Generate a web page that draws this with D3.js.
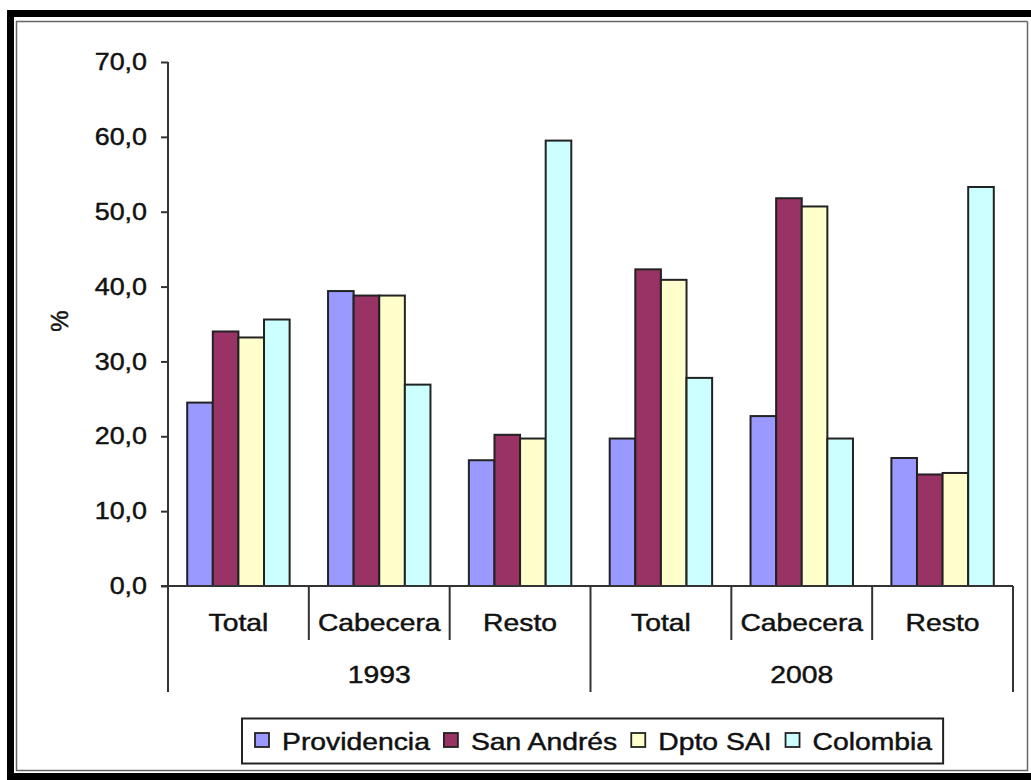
<!DOCTYPE html>
<html>
<head>
<meta charset="utf-8">
<script src="https://cdn.jsdelivr.net/npm/d3@7"></script>
<style>
  html, body { margin: 0; padding: 0; background: #fff; }
  svg text { font-family: "Liberation Sans", Arial, sans-serif; fill: #111; stroke: #111; stroke-width: 0.45px; }
</style>
</head>
<body>
<svg id="chart" width="1031" height="780"></svg>
<script>
// ---- data ----
const years = ["1993", "2008"];
const zones = ["Total", "Cabecera", "Resto"];
const seriesNames = ["Providencia", "San Andrés", "Dpto SAI", "Colombia"];
const providencia = [24.5, 39.4, 16.8, 19.7, 22.7, 17.1];
const sanAndres   = [34.0, 38.8, 20.2, 42.3, 51.8, 14.9];
const dptoSAI     = [33.2, 38.8, 19.7, 40.9, 50.7, 15.1];
const colombia    = [35.6, 26.9, 59.5, 27.8, 19.7, 53.3];
const yTicks = [0, 10, 20, 30, 40, 50, 60, 70];
const seriesColors = ["#9999FF", "#993366", "#FFFFCC", "#CCFFFF"];

const seriesValues = [providencia, sanAndres, dptoSAI, colombia];
const cats = [];
years.forEach(y => zones.forEach(z => cats.push(y + "|" + z)));

const svg = d3.select("#chart");
const SX = 1.18; // horizontal text stretch seen in the reference

// ---- frame ----
svg.append("rect").attr("x", 0).attr("y", 0).attr("width", 1031).attr("height", 780).attr("fill", "#fff");
svg.append("rect").attr("x", 7).attr("y", 10).attr("width", 1040).attr("height", 800).attr("fill", "#000");
svg.append("rect").attr("x", 14).attr("y", 17).attr("width", 1040).attr("height", 756).attr("fill", "#fff");
svg.append("path").attr("d", "M1027.5,21.5 H16.5 V770.5 H1027.5 V21.5")
  .attr("fill", "none").attr("stroke", "#666").attr("stroke-width", 1.5);
svg.append("rect").attr("x", 18).attr("y", 23).attr("width", 1008).attr("height", 746).attr("fill", "#fff");

// ---- scales ----
const y = d3.scaleLinear().domain([0, 70]).range([586, 62]);
const x0 = d3.scaleBand().domain(cats).range([168, 1013]).padding(0);
const bw = x0.bandwidth();
const x1 = d3.scaleBand().domain(seriesNames)
  .range([bw * 0.75 / 5.5, bw * 4.75 / 5.5]).padding(0);

// ---- y axis ----
const yAxis = d3.axisLeft(y).tickValues(yTicks).tickSize(7).tickPadding(14)
  .tickFormat(d => d3.format(".1f")(d).replace(".", ","));
const gy = svg.append("g").attr("transform", "translate(168,0)").call(yAxis);
gy.select(".domain").remove();
gy.selectAll(".tick line").attr("stroke", "#333").attr("stroke-width", 2);
gy.selectAll(".tick text").attr("font-size", 24).attr("fill", "#111")
  .attr("font-family", "Liberation Sans, Arial, sans-serif")
  .each(function () {
    const t = d3.select(this);
    const xx = +t.attr("x");
    t.attr("x", null).attr("transform", `translate(${xx},0) scale(1.12,1)`);
  });
svg.append("line").attr("x1", 168).attr("x2", 168).attr("y1", 62).attr("y2", 692)
  .attr("stroke", "#333").attr("stroke-width", 2);

// y title
svg.append("text").attr("transform", "translate(68,321) rotate(-90)")
  .attr("text-anchor", "middle").attr("font-size", 24).text("%");

// ---- bars ----
const barData = [];
seriesValues.forEach((vals, si) => vals.forEach((v, ci) => barData.push({ s: seriesNames[si], si, c: cats[ci], v })));
svg.append("g").selectAll("rect").data(barData).join("rect")
  .attr("x", d => x0(d.c) + x1(d.s))
  .attr("y", d => y(d.v))
  .attr("width", x1.bandwidth())
  .attr("height", d => y(0) - y(d.v))
  .attr("fill", d => seriesColors[d.si])
  .attr("stroke", "#222").attr("stroke-width", 2);

// ---- x axis ----
svg.append("line").attr("x1", 161).attr("x2", x0.range()[1]).attr("y1", 586).attr("y2", 586)
  .attr("stroke", "#333").attr("stroke-width", 2);
cats.forEach((c, i) => {
  const left = x0(c);
  const isYearStart = i % zones.length === 0;
  if (i > 0) {
    svg.append("line").attr("x1", left).attr("x2", left).attr("y1", 586)
      .attr("y2", isYearStart ? 692 : 640).attr("stroke", "#333").attr("stroke-width", 2);
  }
  svg.append("text").attr("transform", `translate(${left + bw / 2},631) scale(${SX},1)`)
    .attr("text-anchor", "middle").attr("font-size", 24).text(c.split("|")[1]);
});
const xEnd = x0.range()[1];
svg.append("line").attr("x1", xEnd).attr("x2", xEnd).attr("y1", 586).attr("y2", 692)
  .attr("stroke", "#333").attr("stroke-width", 2);
years.forEach((yr, i) => {
  const a = x0(yr + "|" + zones[0]);
  const b = x0(yr + "|" + zones[zones.length - 1]) + bw;
  svg.append("text").attr("transform", `translate(${(a + b) / 2},683) scale(${SX},1)`)
    .attr("text-anchor", "middle").attr("font-size", 24).text(yr);
});

// ---- legend ----
const lg = svg.append("g");
const box = lg.append("rect").attr("x", 242).attr("y", 718.5).attr("height", 45)
  .attr("fill", "#fff").attr("stroke", "#222").attr("stroke-width", 2);
let cx = 255;
seriesNames.forEach((n, i) => {
  lg.append("rect").attr("x", cx).attr("y", 733).attr("width", 14).attr("height", 14)
    .attr("fill", seriesColors[i]).attr("stroke", "#222").attr("stroke-width", 1.8);
  const t = lg.append("text").attr("transform", `translate(${cx + 27},750) scale(${SX},1)`)
    .attr("font-size", 24).text(n);
  const w = t.node().getComputedTextLength() * SX;
  cx = cx + 27 + w + 14;
});
box.attr("width", cx - 242 - 3);
</script>
</body>
</html>
